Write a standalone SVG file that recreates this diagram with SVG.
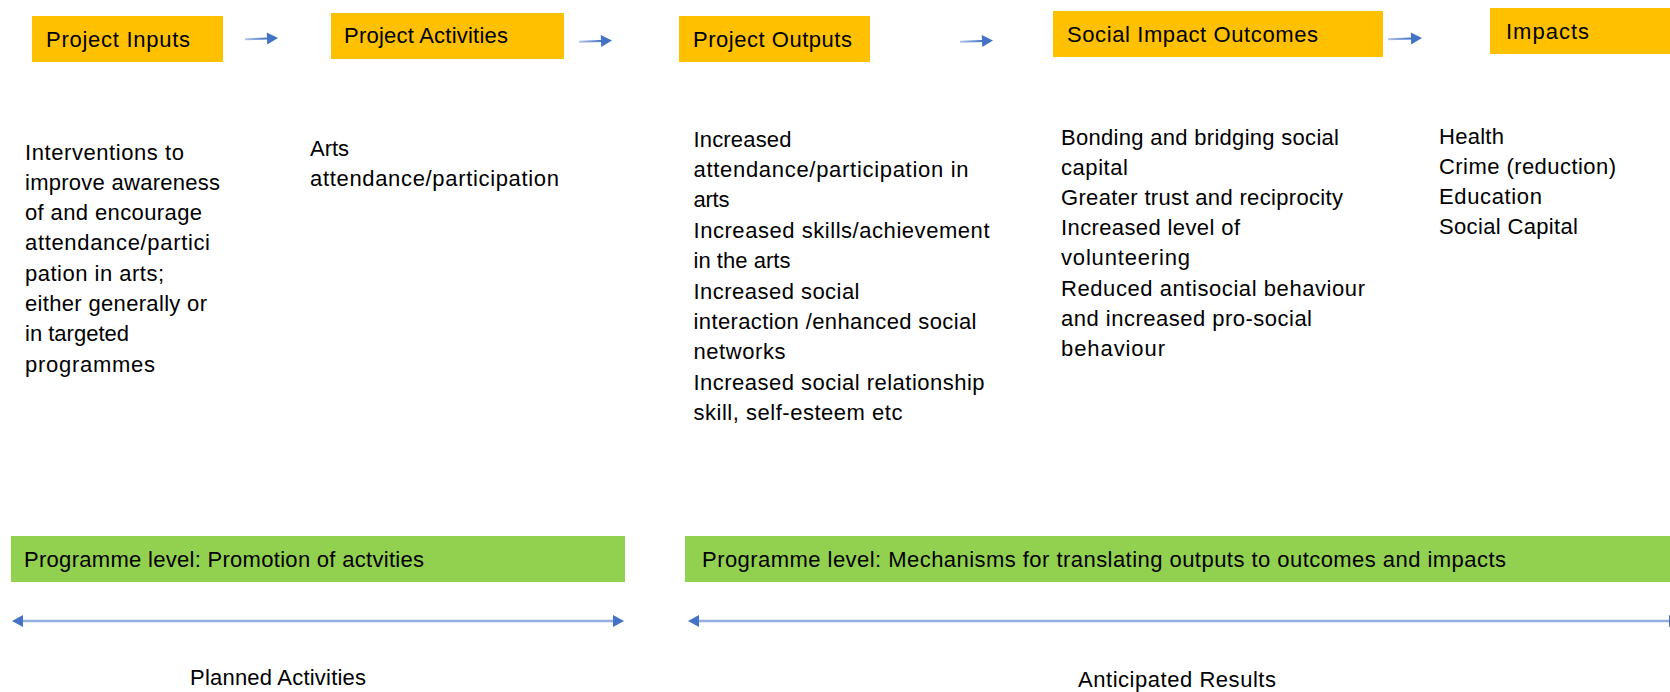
<svg xmlns="http://www.w3.org/2000/svg" width="1670" height="692" viewBox="0 0 1670 692">
  <style>
    text { font-family: "Liberation Sans", Arial, sans-serif; font-size: 22px; fill: #000; }
    .stage { fill: #FFC000; }
    .band { fill: #92D050; }
    .flow { stroke: url(#flowGrad); stroke-width: 2; fill: none; marker-end: url(#head); }
    .span { stroke: #94AEE0; stroke-width: 2.5; fill: none; marker-start: url(#head); marker-end: url(#head); }
  </style>
  <defs>
    <linearGradient id="flowGrad" x1="0" y1="0" x2="1" y2="0">
      <stop offset="0" stop-color="#B4C6EA"/>
      <stop offset="1" stop-color="#4472C4"/>
    </linearGradient>
    <marker id="head" markerUnits="userSpaceOnUse" markerWidth="12" markerHeight="12" refX="0" refY="6" orient="auto-start-reverse" overflow="visible">
      <path d="M0,0 L11,6 L0,12 Z" fill="#4472C4"/>
    </marker>
  </defs>

  <!-- stage headers -->
  <g id="project-inputs">
    <rect class="stage" x="32" y="16" width="191" height="46"/>
    <text x="46" y="47" textLength="144">Project Inputs</text>
  </g>
  <g id="project-activities">
    <rect class="stage" x="331" y="13" width="233" height="46"/>
    <text x="344" y="43" textLength="164">Project Activities</text>
  </g>
  <g id="project-outputs">
    <rect class="stage" x="679" y="16" width="191" height="46"/>
    <text x="693" y="47" textLength="159">Project Outputs</text>
  </g>
  <g id="social-impact-outcomes">
    <rect class="stage" x="1053" y="11" width="330" height="46"/>
    <text x="1067" y="42" textLength="251">Social Impact Outcomes</text>
  </g>
  <g id="impacts">
    <rect class="stage" x="1490" y="8" width="182" height="46"/>
    <text x="1506" y="39" textLength="83">Impacts</text>
  </g>

  <!-- stage details -->
  <g id="inputs-detail">
    <text x="25" y="159.5" textLength="159">Interventions to</text>
    <text x="25" y="189.8" textLength="195">improve awareness</text>
    <text x="25" y="220.1" textLength="177">of and encourage</text>
    <text x="25" y="250.4" textLength="185">attendance/partici</text>
    <text x="25" y="280.7" textLength="139">pation in arts;</text>
    <text x="25" y="311" textLength="182">either generally or</text>
    <text x="25" y="341.3" textLength="104">in targeted</text>
    <text x="25" y="371.6" textLength="130">programmes</text>
  </g>
  <g id="activities-detail">
    <text x="310" y="156" textLength="39">Arts</text>
    <text x="310" y="186" textLength="249">attendance/participation</text>
  </g>
  <g id="outputs-detail">
    <text x="693.5" y="146.5" textLength="98">Increased</text>
    <text x="693.5" y="176.9" textLength="275">attendance/participation in</text>
    <text x="693.5" y="207.3" textLength="36">arts</text>
    <text x="693.5" y="237.7" textLength="296">Increased skills/achievement</text>
    <text x="693.5" y="268.1" textLength="97">in the arts</text>
    <text x="693.5" y="298.5" textLength="166">Increased social</text>
    <text x="693.5" y="328.9" textLength="283">interaction /enhanced social</text>
    <text x="693.5" y="359.3" textLength="92">networks</text>
    <text x="693.5" y="389.7" textLength="291">Increased social relationship</text>
    <text x="693.5" y="420.1" textLength="209">skill, self-esteem etc</text>
  </g>
  <g id="outcomes-detail">
    <text x="1061" y="144.5" textLength="278">Bonding and bridging social</text>
    <text x="1061" y="174.7" textLength="67">capital</text>
    <text x="1061" y="204.9" textLength="282">Greater trust and reciprocity</text>
    <text x="1061" y="235.1" textLength="179">Increased level of</text>
    <text x="1061" y="265.3" textLength="129">volunteering</text>
    <text x="1061" y="295.5" textLength="304">Reduced antisocial behaviour</text>
    <text x="1061" y="325.7" textLength="251">and increased pro-social</text>
    <text x="1061" y="355.9" textLength="104">behaviour</text>
  </g>
  <g id="impacts-detail">
    <text x="1439" y="143.5" textLength="65">Health</text>
    <text x="1439" y="173.5" textLength="177">Crime (reduction)</text>
    <text x="1439" y="203.5" textLength="103">Education</text>
    <text x="1439" y="233.5" textLength="139">Social Capital</text>
  </g>

  <!-- programme level bands -->
  <g id="programme-promotion">
    <rect class="band" x="11" y="536" width="614" height="46"/>
    <text x="24" y="567" textLength="400">Programme level: Promotion of actvities</text>
  </g>
  <g id="programme-mechanisms">
    <rect class="band" x="685" y="536" width="987" height="46"/>
    <text x="702" y="567" textLength="804">Programme level: Mechanisms for translating outputs to outcomes and impacts</text>
  </g>

  <!-- phase labels -->
  <g id="planned-activities">
    <text x="190" y="685" textLength="176">Planned Activities</text>
  </g>
  <g id="anticipated-results">
    <text x="1078" y="687" textLength="198">Anticipated Results</text>
  </g>

  <!-- connectors -->
  <g id="connectors">
    <path class="flow" d="M245,39.3 L267,38.5"/>
    <path class="flow" d="M579,41.7 L601,40.9"/>
    <path class="flow" d="M960,41.7 L982,40.9"/>
    <path class="flow" d="M1388,39.3 L1411,38.5"/>
    <path class="span" d="M23,621 L613,621"/>
    <path class="span" d="M699,621 L1669,621"/>
  </g>
</svg>
